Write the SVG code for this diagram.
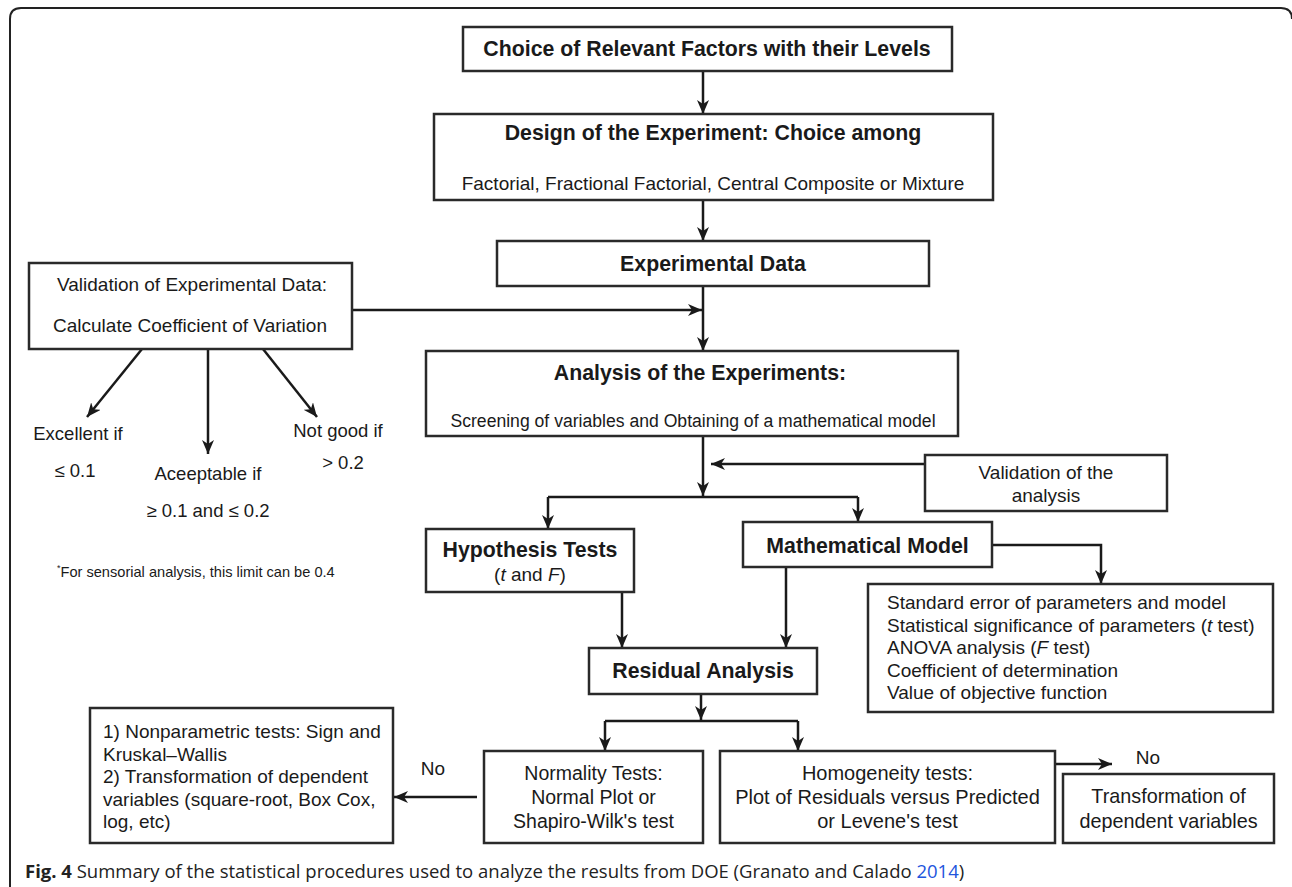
<svg xmlns="http://www.w3.org/2000/svg" width="1292" height="887" viewBox="0 0 1292 887">
<style>
.box{fill:#fff;stroke:#2a2a2a;stroke-width:2.5}
.ln{fill:none;stroke:#1a1a1a;stroke-width:2.5}
.arr{marker-end:url(#ah)}
.b{font-family:"Liberation Sans",Arial,sans-serif;font-weight:bold;font-size:21.3px;fill:#1a1a1a;text-anchor:middle}
.r{font-family:"Liberation Sans",Arial,sans-serif;font-size:19px;fill:#1a1a1a;text-anchor:middle}
.l{text-anchor:start}
.cap{font-family:"Open Sans","Noto Sans",sans-serif;font-size:18.5px;fill:#222}
</style>
<defs>
<marker id="ah" markerUnits="userSpaceOnUse" markerWidth="14" markerHeight="12" refX="14" refY="6" orient="auto">
<path d="M0,0 L14,6 L0,12 L4,6 Z" fill="#1a1a1a"/>
</marker>
</defs>
<rect width="1292" height="887" fill="#fff"/>
<path d="M10,887 L10,19 Q10,8 21,8 L1281,8 Q1292,8 1292,19" fill="none" stroke="#222" stroke-width="2"/>

<g id="connectors">
<line class="ln arr" x1="703" y1="71" x2="703" y2="114"/>
<line class="ln arr" x1="703" y1="200" x2="703" y2="241"/>
<line class="ln arr" x1="703" y1="286" x2="703" y2="351"/>
<line class="ln arr" x1="352" y1="310" x2="702" y2="310"/>
<line class="ln arr" x1="142" y1="349" x2="87" y2="417"/>
<line class="ln arr" x1="208" y1="349" x2="208" y2="454"/>
<line class="ln arr" x1="263" y1="349" x2="317" y2="417"/>
<line class="ln arr" x1="703" y1="436" x2="703" y2="496"/>
<line class="ln arr" x1="925" y1="464" x2="711" y2="464"/>
<path class="ln" d="M548,497 L858,497"/>
<line class="ln arr" x1="548" y1="497" x2="548" y2="529"/>
<line class="ln arr" x1="858" y1="497" x2="858" y2="522"/>
<path class="ln arr" d="M992,545 L1101,545 L1101,584"/>
<line class="ln arr" x1="622" y1="592" x2="622" y2="648"/>
<line class="ln arr" x1="786" y1="567" x2="786" y2="648"/>
<line class="ln arr" x1="701" y1="694" x2="701" y2="720"/>
<path class="ln" d="M605,721 L798,721"/>
<line class="ln arr" x1="605" y1="721" x2="605" y2="751"/>
<line class="ln arr" x1="798" y1="721" x2="798" y2="751"/>
<line class="ln arr" x1="477" y1="797" x2="394" y2="797"/>
<line class="ln arr" x1="1055" y1="764" x2="1112" y2="764"/>
<text class="r" x="433" y="775">No</text>
<text class="r" x="1148" y="764">No</text>
</g>

<g id="choice">
<rect class="box" x="463" y="27" width="489" height="44"/>
<text class="b" x="707" y="55.5">Choice of Relevant Factors with their Levels</text>
</g>
<g id="design">
<rect class="box" x="434" y="114" width="559" height="86"/>
<text class="b" x="713" y="139.5">Design of the Experiment: Choice among</text>
<text class="r" x="713" y="189.5">Factorial, Fractional Factorial, Central Composite or Mixture</text>
</g>
<g id="data">
<rect class="box" x="497" y="241" width="432" height="45"/>
<text class="b" x="713" y="270.5">Experimental Data</text>
</g>
<g id="validation-data">
<rect class="box" x="29" y="263" width="323" height="86"/>
<text class="r" x="192" y="290.5">Validation of Experimental Data:</text>
<text class="r" x="190" y="331.5">Calculate Coefficient of Variation</text>
</g>
<g id="cv-levels">
<text class="r" x="78" y="440" style="font-size:18.5px">Excellent if</text>
<text class="r" x="75" y="477" style="font-size:18.5px">≤ 0.1</text>
<text class="r" x="208" y="480" style="font-size:18.5px">Aceeptable if</text>
<text class="r" x="208" y="516.5" style="font-size:18.5px">≥ 0.1 and ≤ 0.2</text>
<text class="r" x="338" y="436.5" style="font-size:18.5px">Not good if</text>
<text class="r" x="343" y="469" style="font-size:18.5px">&gt; 0.2</text>
<text class="r l" x="57" y="577" style="font-size:14.6px"><tspan dy="-6" style="font-size:9px">*</tspan><tspan dy="6">For sensorial analysis, this limit can be 0.4</tspan></text>
</g>
<g id="analysis">
<rect class="box" x="426" y="351" width="532" height="85"/>
<text class="b" x="700" y="379.5">Analysis of the Experiments:</text>
<text class="r" x="693" y="427" style="font-size:17.6px">Screening of variables and Obtaining of a mathematical model</text>
</g>
<g id="validation-analysis">
<rect class="box" x="925" y="455" width="242" height="56"/>
<text class="r" x="1046" y="478.5">Validation of the</text>
<text class="r" x="1046" y="501.5">analysis</text>
</g>
<g id="hypothesis">
<rect class="box" x="426" y="529" width="208" height="63"/>
<text class="b" x="530" y="557">Hypothesis Tests</text>
<text class="r" x="530" y="581">(<tspan font-style="italic">t</tspan> and <tspan font-style="italic">F</tspan>)</text>
</g>
<g id="model">
<rect class="box" x="743" y="522" width="249" height="45"/>
<text class="b" x="867.5" y="552.5">Mathematical Model</text>
</g>
<g id="model-stats">
<rect class="box" x="868" y="584" width="405" height="128"/>
<text class="r l" x="887" y="609">Standard error of parameters and model</text>
<text class="r l" x="887" y="631.5">Statistical significance of parameters (<tspan font-style="italic">t</tspan> test)</text>
<text class="r l" x="887" y="654">ANOVA analysis (<tspan font-style="italic">F</tspan> test)</text>
<text class="r l" x="887" y="676.5">Coefficient of determination</text>
<text class="r l" x="887" y="699">Value of objective function</text>
</g>
<g id="residual">
<rect class="box" x="589" y="648" width="228" height="46"/>
<text class="b" x="703" y="677.5">Residual Analysis</text>
</g>
<g id="normality">
<rect class="box" x="484" y="751" width="219" height="92"/>
<text class="r" x="593.5" y="780" style="font-size:19.5px">Normality Tests:</text>
<text class="r" x="593.5" y="804" style="font-size:19.5px">Normal Plot or</text>
<text class="r" x="593.5" y="828" style="font-size:19.5px">Shapiro-Wilk's test</text>
</g>
<g id="homogeneity">
<rect class="box" x="720" y="751" width="335" height="92"/>
<text class="r" x="887.5" y="780" style="font-size:20px">Homogeneity tests:</text>
<text class="r" x="887.5" y="804" style="font-size:20px">Plot of Residuals versus Predicted</text>
<text class="r" x="887.5" y="828" style="font-size:20px">or Levene's test</text>
</g>
<g id="transformation">
<rect class="box" x="1063" y="774" width="211" height="69"/>
<text class="r" x="1168.5" y="803" style="font-size:19.8px">Transformation of</text>
<text class="r" x="1168.5" y="828" style="font-size:19.8px">dependent variables</text>
</g>
<g id="nonparametric">
<rect class="box" x="90" y="708" width="303" height="135"/>
<text class="r l" x="103" y="738">1) Nonparametric tests: Sign and</text>
<text class="r l" x="103" y="760.5">Kruskal–Wallis</text>
<text class="r l" x="103" y="783">2) Transformation of dependent</text>
<text class="r l" x="103" y="805.5">variables (square-root, Box Cox,</text>
<text class="r l" x="103" y="828">log, etc)</text>
</g>
<g id="caption">
<text class="cap" x="25" y="878"><tspan font-weight="bold">Fig. 4</tspan> Summary of the statistical procedures used to analyze the results from DOE (Granato and Calado <tspan fill="#2255dd">2014</tspan>)</text>
</g>
</svg>
